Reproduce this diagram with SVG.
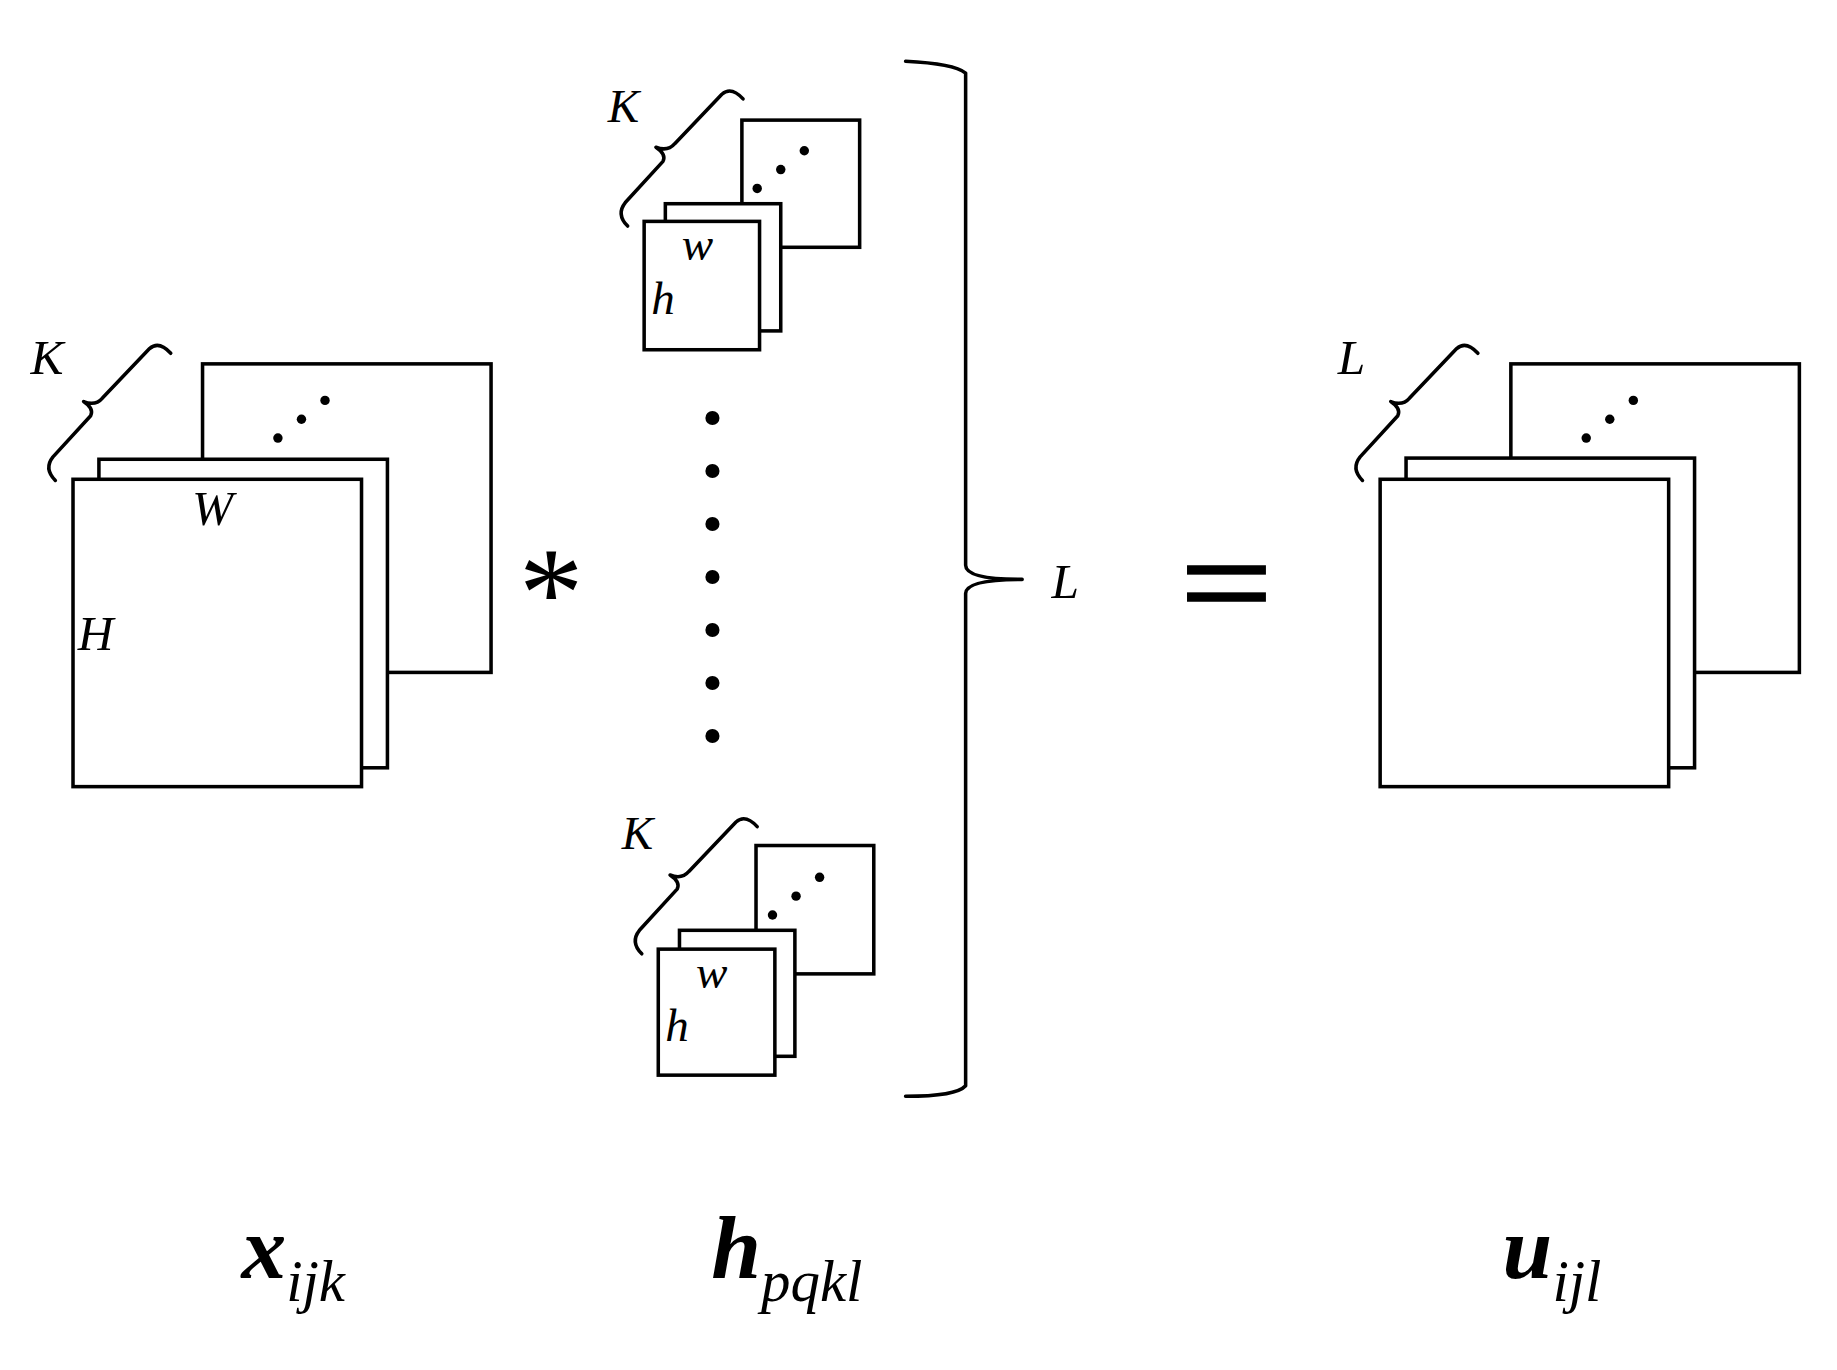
<svg xmlns="http://www.w3.org/2000/svg" width="1837" height="1370" viewBox="0 0 1837 1370">
<style>
.r{fill:#fff;stroke:#000;stroke-width:3}
.b{fill:none;stroke:#000;stroke-width:3;stroke-linecap:round;stroke-linejoin:round}
.t{font-family:"Liberation Serif",serif;font-style:italic;fill:#000}
</style>
<defs>
<path id="br" class="b" d="M0,0 Q-10,-10 -2,-20 L30,-55 Q33,-61 24,-67 Q34,-63 40,-70 L80,-112 Q88,-119 98,-108"/>
<g id="dots"><circle cx="0" cy="0" r="4"/><circle cx="20" cy="-16" r="4"/><circle cx="40" cy="-32" r="4"/></g>
</defs>
<rect width="1837" height="1370" fill="#fff"/>
<g transform="scale(1.1776)">
<g id="input">
<rect class="r" x="172" y="309" width="245" height="262"/>
<rect class="r" x="84" y="390" width="245" height="262"/>
<rect class="r" x="62" y="407" width="245" height="261"/>
<use href="#dots" x="236" y="372"/>
<use href="#br" x="47" y="408"/>
<text class="t" x="26" y="318" font-size="42">K</text>
<text class="t" x="163" y="446" font-size="42">W</text>
<text class="t" x="66" y="552" font-size="42">H</text>
</g>
<g id="star"><text x="468" y="540" font-family="Liberation Serif,serif" font-size="110" text-anchor="middle">*</text></g>
<g id="filter1">
<rect class="r" x="630" y="102" width="100" height="108"/>
<rect class="r" x="565" y="173" width="98" height="108"/>
<rect class="r" x="547" y="188" width="98" height="109"/>
<use href="#dots" x="643" y="160"/>
<use href="#br" x="533" y="192"/>
<text class="t" x="516" y="104" font-size="40">K</text>
<text class="t" x="579" y="221" font-size="40">w</text>
<text class="t" x="553" y="267" font-size="40">h</text>
</g>
<g id="vdots">
<circle cx="605" cy="355" r="6"/><circle cx="605" cy="400" r="6"/><circle cx="605" cy="445" r="6"/><circle cx="605" cy="490" r="6"/><circle cx="605" cy="535" r="6"/><circle cx="605" cy="580" r="6"/><circle cx="605" cy="625" r="6"/>
</g>
<g id="filter2">
<rect class="r" x="642" y="718" width="100" height="109"/>
<rect class="r" x="577" y="790" width="98" height="107"/>
<rect class="r" x="559" y="806" width="99" height="107"/>
<use href="#dots" x="656" y="777"/>
<use href="#br" x="545" y="810"/>
<text class="t" x="528" y="721" font-size="40">K</text>
<text class="t" x="591" y="839" font-size="40">w</text>
<text class="t" x="565" y="884" font-size="40">h</text>
</g>
<g id="bigbrace">
<path class="b" d="M769,52 Q810,54 820,62 L820,480 Q820,492 868,492 Q820,492 820,504 L820,922 Q812,931 769,931"/>
<text class="t" x="893" y="508" font-size="42">L</text>
</g>
<g id="equals"><rect x="1008" y="480" width="67" height="8"/><rect x="1008" y="503" width="67" height="8"/></g>
<g id="output">
<rect class="r" x="1283" y="309" width="245" height="262"/>
<rect class="r" x="1194" y="389" width="245" height="263"/>
<rect class="r" x="1172" y="407" width="245" height="261"/>
<use href="#dots" x="1347" y="372"/>
<use href="#br" x="1157" y="408"/>
<text class="t" x="1136" y="318" font-size="42">L</text>
</g>
<g id="labels">
<text class="t" x="205" y="1085" font-size="76" font-weight="bold">x<tspan font-size="50" font-weight="normal" dy="20">ijk</tspan></text>
<text class="t" x="604" y="1085" font-size="76" font-weight="bold">h<tspan font-size="50" font-weight="normal" dy="20">pqkl</tspan></text>
<text class="t" x="1276" y="1085" font-size="76" font-weight="bold">u<tspan font-size="50" font-weight="normal" dy="20">ijl</tspan></text>
</g>
</g>
</svg>
